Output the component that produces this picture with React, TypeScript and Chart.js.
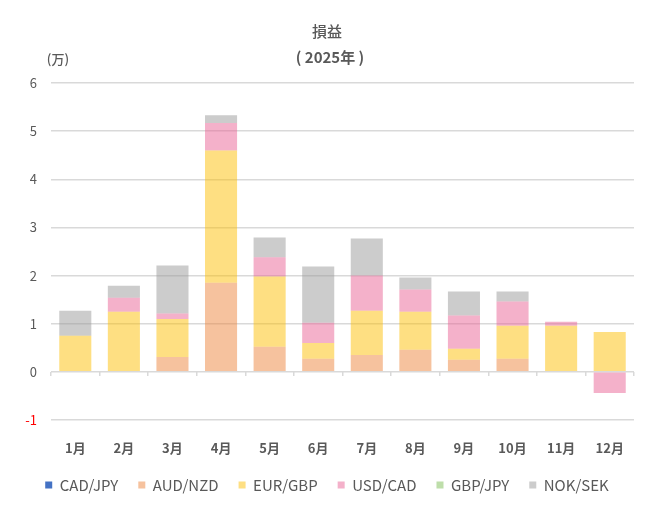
import React, { useEffect, useRef } from "react";
import { Chart, registerables } from "chart.js";

Chart.register(...registerables);

const months = ["1月", "2月", "3月", "4月", "5月", "6月", "7月", "8月", "9月", "10月", "11月", "12月"];
const seriesNames = ["CAD/JPY", "AUD/NZD", "EUR/GBP", "USD/CAD", "GBP/JPY", "NOK/SEK"];
const cadJpy = [0, 0, 0, 0, 0, 0, 0, 0, 0, 0, 0, 0];
const audNzd = [0, 0, 0.31, 1.85, 0.52, 0.27, 0.35, 0.46, 0.25, 0.27, 0, 0];
const eurGbp = [0.75, 1.25, 0.79, 2.75, 1.46, 0.33, 0.92, 0.79, 0.23, 0.69, 0.96, 0.83];
const usdCad = [0, 0.29, 0.11, 0.57, 0.4, 0.42, 0.73, 0.46, 0.69, 0.5, 0.08, -0.44];
const gbpJpy = [0, 0, 0, 0, 0, 0, 0, 0, 0, 0, 0, 0];
const nokSek = [0.52, 0.25, 1.0, 0.16, 0.41, 1.17, 0.77, 0.25, 0.5, 0.21, 0, 0];
const colors = [
  "#4472C4",
  "rgba(237,133,61,0.5)",
  "rgba(253,191,5,0.5)",
  "rgba(233,99,149,0.5)",
  "rgba(125,189,85,0.5)",
  "rgba(153,153,153,0.5)",
];
const titleText = "損益";
const subtitleText = "( 2025年 )";
const unitText = "(万)";

const FONT = "'Noto Sans CJK JP', 'Noto Sans', sans-serif";
const GRAY = "#595959";

const headerPlugin = {
  id: "headerText",
  afterDraw(chart: any) {
    const ctx = chart.ctx;
    ctx.save();
    ctx.fillStyle = GRAY;
    ctx.textAlign = "center";
    ctx.textBaseline = "middle";
    ctx.font = `500 15px ${FONT}`;
    ctx.fillText(titleText, 327, 31);
    ctx.font = `bold 15px ${FONT}`;
    ctx.fillText(subtitleText, 330, 57);
    ctx.font = `500 13px ${FONT}`;
    ctx.fillText(unitText, 58, 59);
    ctx.restore();
  },
};

export default function App() {
  const ref = useRef<HTMLCanvasElement | null>(null);
  useEffect(() => {
    document.body.style.margin = "0";
    const data = [cadJpy, audNzd, eurGbp, usdCad, gbpJpy, nokSek];
    const chart = new Chart(ref.current as HTMLCanvasElement, {
      type: "bar",
      data: {
        labels: months,
        datasets: seriesNames.map((name, i) => ({
          label: name,
          data: data[i],
          backgroundColor: colors[i],
          borderWidth: 0,
          stack: "s",
          categoryPercentage: 1,
          barPercentage: 0.66,
        })),
      },
      options: {
        animation: false,
        responsive: false,
        maintainAspectRatio: false,
        layout: { padding: { top: 83, left: 20, right: 23, bottom: 8.5 } },
        plugins: {
          title: { display: false },
          tooltip: { enabled: false },
          legend: {
            position: "bottom",
            labels: {
              boxWidth: 7,
              boxHeight: 7,
              padding: 20,
              color: GRAY,
              font: { family: FONT, size: 15 },
            },
          },
        },
        scales: {
          x: {
            stacked: true,
            grid: { display: false },
            border: { display: false },
            ticks: { color: GRAY, padding: 12, font: { family: FONT, size: 13, weight: "bold" } },
            afterFit: (s: any) => {
              s.height = 37.5;
            },
          },
          x2: {
            type: "category",
            labels: months,
            position: { y: 0 } as any,
            offset: true,
            grid: { offset: true, drawOnChartArea: false, drawTicks: true, tickLength: 4, color: "#D9D9D9", lineWidth: 1.5 },
            border: { display: false },
            ticks: { display: false },
            afterFit: (s: any) => {
              s.height = 0;
            },
          },
          y: {
            stacked: true,
            min: -1,
            max: 6,
            ticks: {
              stepSize: 1,
              padding: 14,
              color: (c: any) => (c.tick && c.tick.value < 0 ? "#FF0000" : GRAY),
              font: { family: FONT, size: 13 },
            },
            grid: { color: "#D9D9D9", lineWidth: 1.5, drawTicks: false },
            border: { display: false },
            afterFit: (s: any) => {
              s.width = 31;
            },
          },
        },
      },
      plugins: [headerPlugin],
    });
    return () => chart.destroy();
  }, []);
  return <canvas ref={ref} width={657} height={511} style={{ display: "block" }} />;
}
